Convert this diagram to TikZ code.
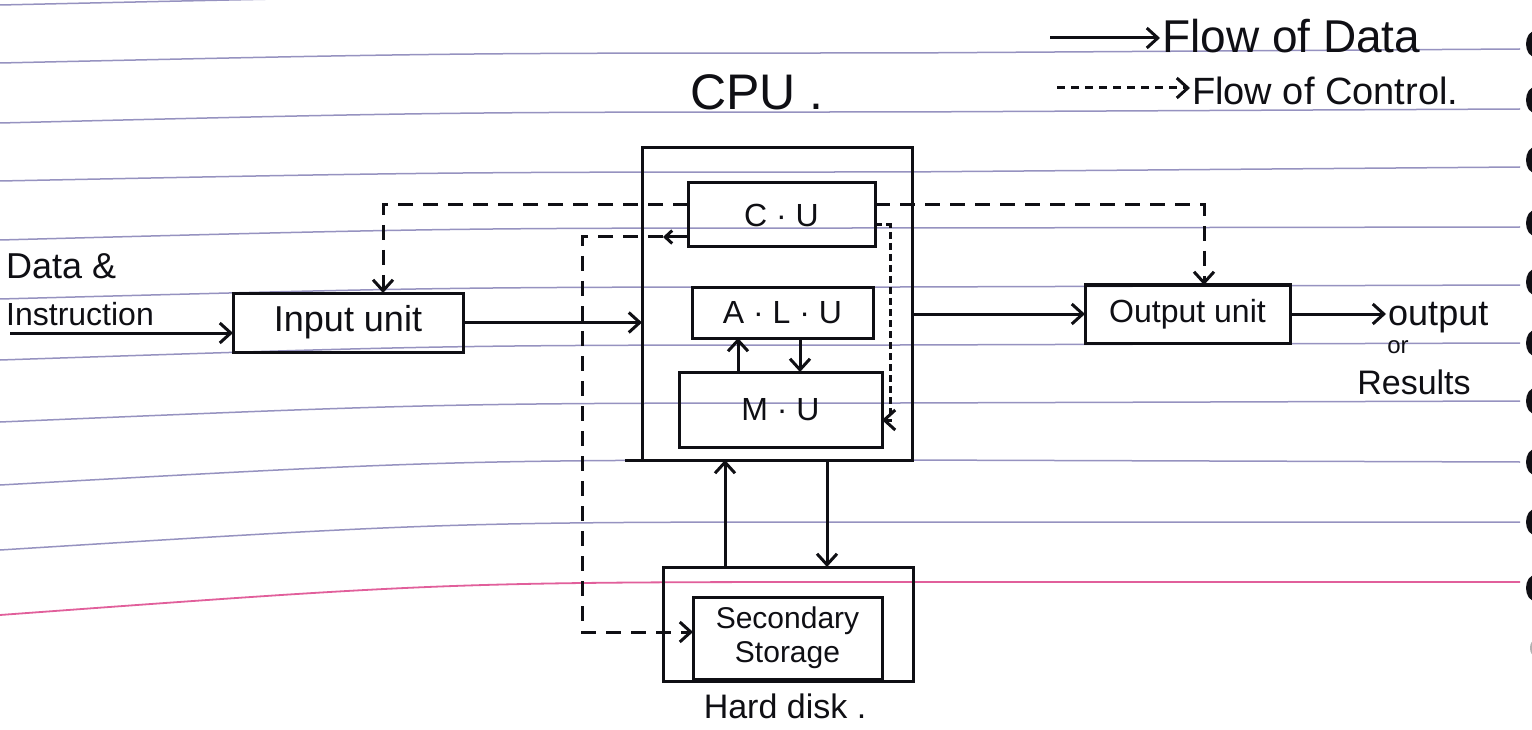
\documentclass[tikz,border=0pt]{standalone}
\usepackage{fontspec}
\setmainfont{Liberation Sans}
\usetikzlibrary{arrows.meta}
\definecolor{ruling}{RGB}{150,146,192}
\definecolor{marginpink}{RGB}{225,95,155}
\definecolor{ink}{RGB}{15,15,20}
\tikzset{
  box/.style={draw=ink, line width=3pt, rectangle, inner sep=0pt, outer sep=0pt, text=ink},
  data/.style={draw=ink, line width=3pt, -{Straight Barb[length=11pt,width=20pt,line width=3pt]}},
  ctrl/.style={data, dash pattern=on 15pt off 10pt},
  ctrldense/.style={data, dash pattern=on 7pt off 4pt},
  rule/.style={draw=ruling, line width=1.5pt},
  pinkrule/.style={draw=marginpink, line width=1.8pt},
  txt/.style={text=ink, inner sep=2pt},
  f24/.style={font=\fontsize{24}{26}\selectfont},
  f30/.style={font=\fontsize{30}{34}\selectfont},
  f32/.style={font=\fontsize{32}{36}\selectfont},
  f34/.style={font=\fontsize{34}{38}\selectfont},
  f36/.style={font=\fontsize{36}{40}\selectfont},
  f38/.style={font=\fontsize{38}{42}\selectfont},
  f46/.style={font=\fontsize{46}{50}\selectfont},
  f50/.style={font=\fontsize{50}{54}\selectfont}
}
\begin{document}
\begin{tikzpicture}[x=1pt,y=-1pt]
\fill[white] (0,0) rectangle (1532,730);
\useasboundingbox (0,0) rectangle (1532,730);
% notebook ruling
\foreach \a/\b/\c in {5/-5/-8, 63/53/49, 123/112/109, 181/172/167, 240/228/227, 299/287/285, 360/345/343, 422/403/401, 485/460/462, 550/522/522}
  \draw[rule] (0,\a) .. controls (450,\b) .. (900,\b) -- (1520,\c);
\draw[pinkrule] (0,615) .. controls (450,582) .. (900,582) -- (1520,582);
% binder holes
\foreach \y in {44,100,160,223,282,343,401,462,522,588}
  \fill[ink] (1535,\y) ellipse [x radius=9pt, y radius=13pt];
\fill[gray!60] (1535,648) ellipse [x radius=5pt, y radius=8pt];

% legend
\node[txt, f46, anchor=west] (fdata) at (1160,36) {Flow of Data};
\node[txt, f38, anchor=west] (fctrl) at (1190,91) {Flow of Control.};
\coordinate (ld1) at (1050,38);
\coordinate (ld2) at (1057,88);
\draw[data] (ld1) -- (ld1 -| fdata.west);
\draw[data, dash pattern=on 8pt off 6pt] (ld2) -- (ld2 -| fctrl.west);

% CPU
\node[txt, f50] (cpulbl) at (757,92) {CPU .};
\node[box, minimum width=270pt, minimum height=312pt] (cpu) at (777,304) {};
\draw[ink, line width=3pt] (cpu.south west) -- ++(-17,0);
\node[box, f32, minimum width=187pt, minimum height=64pt] (cu) at (781.5,215) {C · U};
\node[box, f32, minimum width=181pt, minimum height=51pt] (alu) at (782.5,312.5) {A · L · U};
\node[box, f32, minimum width=203pt, minimum height=75pt] (mu) at (780.5,409.5) {M · U};

% input side
\node[txt, f36, anchor=west] (datalbl) at (4,266) {Data \&};
\node[txt, f32, anchor=west] (instr) at (4,314) {Instruction};
\coordinate (din) at (10,333);
\node[box, f36, minimum width=230pt, minimum height=59pt] (inp) at (348,322.5) {Input unit};

% output side
\node[box, f32, minimum width=205pt, minimum height=58pt] (out) at (1187.5,314) {Output unit};
\node[txt, f36, anchor=west] (outtxt) at (1386,318) {output};
\node[txt, f24] (ortxt) at (1398,347) {or};
\node[txt, f34] (restxt) at (1414,382) {Results};

% storage
\node[box, minimum width=250pt, minimum height=114pt] (hd) at (788,624) {};
\node[box, f30, align=center, minimum width=189pt, minimum height=82pt] (ss) at (787.5,638) {Secondary\\Storage};
\node[txt, f34] (hdlbl) at (785,706) {Hard disk .};

% helper positions
\coordinate (xi) at (383,0);
\coordinate (xs) at (582,0);
\coordinate (xo) at (1204,0);
\coordinate (xm) at (890,0);
\coordinate (xu) at (725,0);
\coordinate (xd) at (827,0);
\coordinate (xa) at (738,0);
\coordinate (xb) at (800,0);
\coordinate (c1) at ([yshift=10pt]cu.west);
\coordinate (c2) at ([yshift=-22pt]cu.west);
\coordinate (c3) at ([yshift=10pt]cu.east);
\coordinate (c4) at ([yshift=-10pt]cu.east);
\coordinate (m4) at ([yshift=-10.5pt]mu.east);
\coordinate (s2) at ([yshift=6pt]ss.west);

% data flow
\draw[data] (din) -- (din -| inp.west);
\draw[data] (inp.east) -- (inp.east -| cpu.west);
\draw[data] (out.west -| cpu.east) -- (out.west);
\draw[data] (out.east) -- (out.east -| outtxt.west);
\draw[data] (mu.north -| xa) -- (alu.south -| xa);
\draw[data] (alu.south -| xb) -- (mu.north -| xb);
\draw[data] (hd.north -| xu) -- (cpu.south -| xu);
\draw[data] (cpu.south -| xd) -- (hd.north -| xd);

% control flow
\draw[ctrl] (c1) -- (c1 -| xi) -- (inp.north -| xi);
\draw[ctrl] (c2) -- (c2 -| xs) -- (s2 -| xs) -- (s2);
\draw[data, -{Straight Barb[length=7pt,width=13pt,line width=3pt]}] (c2) -- ++(-25,0);
\draw[ctrl] (c3) -- (c3 -| xo) -- (out.north -| xo);
\draw[ctrldense] (c4) -- (c4 -| xm) -- (m4 -| xm) -- (m4);
\end{tikzpicture}
\end{document}
